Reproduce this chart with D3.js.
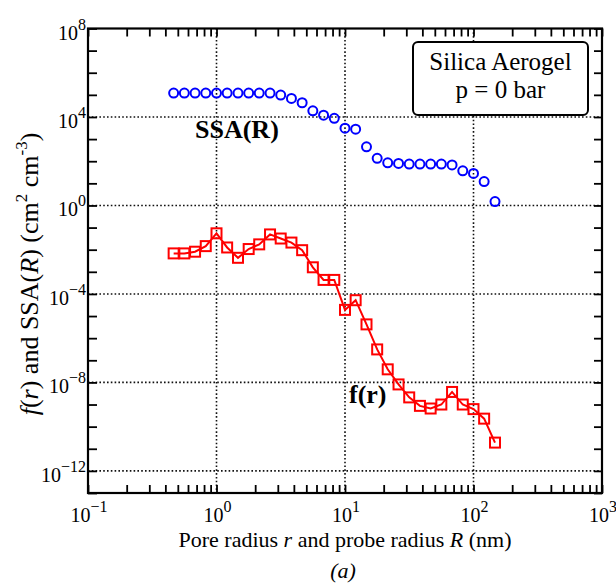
<!DOCTYPE html>
<html>
<head>
<meta charset="utf-8">
<script src="https://cdn.jsdelivr.net/npm/d3@7"></script>
<style>
  body { margin: 0; background: #fff; }
  svg text { font-family: "Liberation Serif", "Times New Roman", serif; fill: #000; }
</style>
</head>
<body>
<div id="chart"></div>
<script>
// radius / probe radius (nm), same grid for both series
const radii = [0.464, 0.562, 0.681, 0.825, 1.0, 1.21, 1.47, 1.78, 2.15, 2.61,
               3.16, 3.83, 4.64, 5.62, 6.81, 8.25, 10.0, 12.1, 14.7, 17.8,
               21.5, 26.1, 31.6, 38.3, 46.4, 56.2, 68.1, 82.5, 100, 121, 147];
// SSA(R), cm2 cm-3
const ssa = [1.2e5, 1.2e5, 1.2e5, 1.2e5, 1.2e5, 1.2e5, 1.2e5, 1.2e5, 1.2e5, 1.2e5,
             9.8e4, 6.9e4, 4.4e4, 1.9e4, 1.2e4, 8.7e3, 3.1e3, 2.8e3, 450, 135,
             85, 79, 74, 74, 74, 74, 68, 37, 28, 12, 1.5];
// f(r)
const fr = [6.8e-3, 6.8e-3, 8.1e-3, 1.45e-2, 5.5e-2, 1.26e-2, 4.3e-3, 1.07e-2, 1.74e-2, 4.9e-2,
            3.2e-2, 2.1e-2, 9.5e-3, 1.6e-3, 4.3e-4, 4.3e-4, 1.9e-5, 5.2e-5, 4.2e-6, 3.1e-7,
            3.9e-8, 8.1e-9, 2.1e-9, 8.7e-10, 6.6e-10, 1.0e-9, 3.7e-9, 1.0e-9, 6.2e-10, 2.3e-10, 1.9e-11];

const xLabelExp = [-1, 0, 1, 2, 3];
const yLabelExp = [8, 4, 0, -4, -8, -12];
const xGridExp = [0, 1, 2];
const yGridExp = [4, 0, -4, -8, -12];
const legendLines = ["Silica Aerogel", "p = 0 bar"];

const W = 616, H = 586;
const m = {left: 88, right: 14, top: 28.5, bottom: 93};

const svg = d3.select("#chart").append("svg").attr("width", W).attr("height", H);

const x = d3.scaleLog().domain([0.1, 1000]).range([m.left, W - m.right]);
const y = d3.scaleLog().domain([1e-13, 1e8]).range([H - m.bottom, m.top]);

const x0 = x.range()[0], x1 = x.range()[1];
const y0 = y.range()[1], y1 = y.range()[0];

// minor x ticks 1..9 per decade
let xTicks = [];
for (let e = -1; e < 3; e++) for (let k = 1; k < 10; k++) xTicks.push(k * Math.pow(10, e));
xTicks.push(1000);
let yTicks = [];
for (let e = -13; e <= 8; e++) yTicks.push(Math.pow(10, e));

// dotted grid
const grid = svg.append("g").attr("stroke", "#111").attr("stroke-width", 1.6)
    .attr("stroke-dasharray", "1.6,2.2");
grid.selectAll(".gx").data(xGridExp).join("line")
    .attr("x1", d => x(Math.pow(10, d))).attr("x2", d => x(Math.pow(10, d)))
    .attr("y1", y0).attr("y2", y1);
grid.selectAll(".gy").data(yGridExp).join("line")
    .attr("x1", x0).attr("x2", x1)
    .attr("y1", d => y(Math.pow(10, d))).attr("y2", d => y(Math.pow(10, d)));

// axes with inward ticks
function styleAxis(g) {
    g.selectAll("text").remove();
    g.select(".domain").remove();
    g.selectAll("line").attr("stroke", "#000").attr("stroke-width", 1.8);
}
svg.append("g").attr("transform", `translate(0,${y1})`)
    .call(d3.axisBottom(x).tickValues(xTicks).tickSize(-8)).call(styleAxis);
svg.append("g").attr("transform", `translate(0,${y0})`)
    .call(d3.axisTop(x).tickValues(xTicks).tickSize(-8)).call(styleAxis);
svg.append("g").attr("transform", `translate(${x0},0)`)
    .call(d3.axisLeft(y).tickValues(yTicks).tickSize(-9)).call(styleAxis);
svg.append("g").attr("transform", `translate(${x1},0)`)
    .call(d3.axisRight(y).tickValues(yTicks).tickSize(-8)).call(styleAxis);

svg.append("rect").attr("x", x0).attr("y", y0).attr("width", x1 - x0).attr("height", y1 - y0)
    .attr("fill", "none").attr("stroke", "#000").attr("stroke-width", 2.2);

// tick labels 10^n
function powLabel(sel) {
    sel.append("tspan").style("font-size", "20px").text("10");
    sel.append("tspan").style("font-size", "16px").attr("dy", -10)
        .text(d => d < 0 ? "\u2212" + (-d) : d);
}
svg.selectAll(".xl").data(xLabelExp).join("text")
    .attr("x", d => x(Math.pow(10, d)) + 1).attr("y", y1 + 29)
    .attr("text-anchor", "middle").call(powLabel);
svg.selectAll(".yl").data(yLabelExp).join("text")
    .attr("x", x0 - 2).attr("y", d => y(Math.pow(10, d)) + 11)
    .attr("text-anchor", "end").call(powLabel);

// axis titles
const xt = svg.append("text").attr("x", (x0 + x1) / 2).attr("y", 547)
    .attr("text-anchor", "middle").style("font-size", "22px");
xt.append("tspan").text("Pore radius ");
xt.append("tspan").style("font-style", "italic").text("r");
xt.append("tspan").text(" and probe radius ");
xt.append("tspan").style("font-style", "italic").text("R");
xt.append("tspan").text(" (nm)");

svg.append("text").attr("x", 343).attr("y", 578).attr("text-anchor", "middle")
    .style("font-size", "22px").style("font-style", "italic").text("(a)");

const yt = svg.append("text").attr("transform", "translate(38,274) rotate(-90)")
    .attr("text-anchor", "middle").style("font-size", "26px");
yt.append("tspan").style("font-style", "italic").text("f");
yt.append("tspan").text("(");
yt.append("tspan").style("font-style", "italic").text("r");
yt.append("tspan").text(") and SSA(");
yt.append("tspan").style("font-style", "italic").text("R");
yt.append("tspan").text(") (cm");
yt.append("tspan").style("font-size", "17px").attr("dy", -11).text("2");
yt.append("tspan").attr("dy", 11).text(" cm");
yt.append("tspan").style("font-size", "17px").attr("dy", -11).text("-3");
yt.append("tspan").attr("dy", 11).text(")");

// f(r) line + squares
const frPts = radii.map((r, i) => [r, fr[i]]);
svg.append("path").datum(frPts)
    .attr("fill", "none").attr("stroke", "#ff0000").attr("stroke-width", 2)
    .attr("d", d3.line().x(d => x(d[0])).y(d => y(d[1])));
svg.selectAll(".sq").data(frPts).join("rect")
    .attr("x", d => x(d[0]) - 5).attr("y", d => y(d[1]) - 5)
    .attr("width", 10).attr("height", 10)
    .attr("fill", "none").attr("stroke", "#ff0000").attr("stroke-width", 2);

// SSA circles
const ssaPts = radii.map((r, i) => [r, ssa[i]]);
svg.selectAll(".ci").data(ssaPts).join("circle")
    .attr("cx", d => x(d[0])).attr("cy", d => y(d[1])).attr("r", 4.5)
    .attr("fill", "none").attr("stroke", "#0000ff").attr("stroke-width", 2);

// series labels
svg.append("text").attr("x", 195).attr("y", 138).style("font-size", "26px")
    .style("font-weight", "bold").text("SSA(R)");
svg.append("text").attr("x", 349).attr("y", 403).style("font-size", "26px")
    .style("font-weight", "bold").text("f(r)");

// legend box
svg.append("rect").attr("x", 413).attr("y", 42).attr("width", 175).attr("height", 73)
    .attr("rx", 5).attr("fill", "#fff").attr("stroke", "#000").attr("stroke-width", 2);
svg.selectAll(".lg").data(legendLines).join("text")
    .attr("x", 500.5).attr("y", (d, i) => 70 + i * 28)
    .attr("text-anchor", "middle").style("font-size", "25px").text(d => d);
</script>
</body>
</html>
